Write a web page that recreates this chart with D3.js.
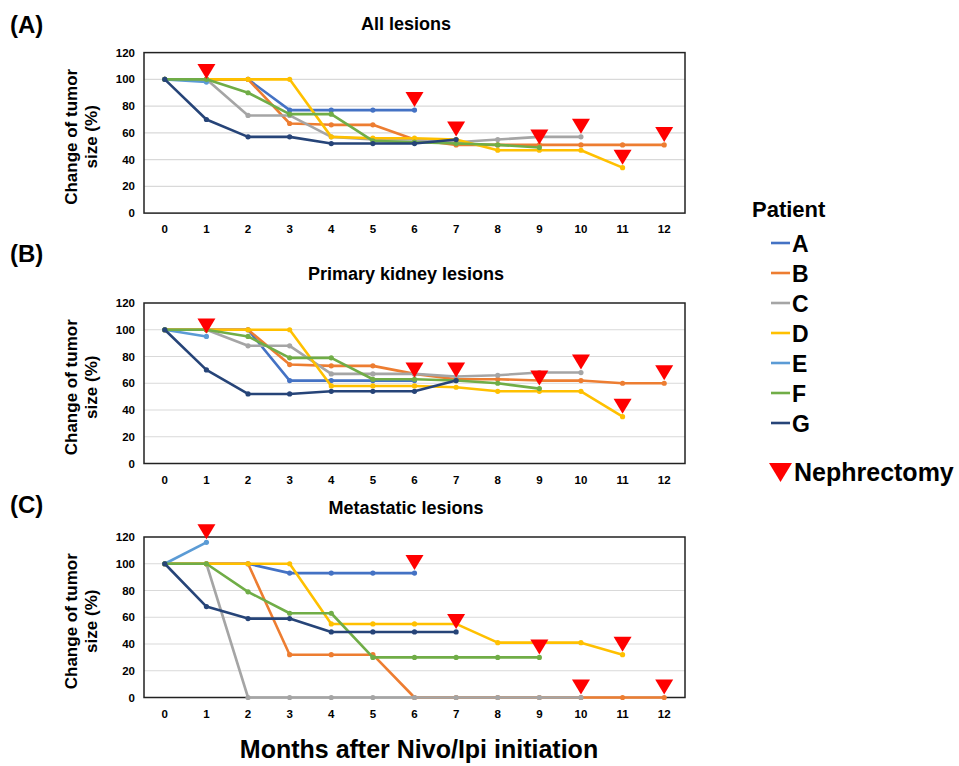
<!DOCTYPE html>
<html>
<head>
<meta charset="utf-8">
<script src="https://cdn.jsdelivr.net/npm/d3@7"></script>
<style>
	body { margin: 0; background: #fff; }
	text { font-family: "Liberation Sans", Arial, sans-serif; font-weight: bold; fill: #000; }
</style>
</head>
<body>
<script>
//months after initiation (x categories)
var months = [0,1,2,3,4,5,6,7,8,9,10,11,12];
var patients = ["A","B","C","D","E","F","G"];
var patientColors = ["#4472C4","#ED7D31","#A5A5A5","#FFC000","#5B9BD5","#70AD47","#264478"];
var yTicks = [0,20,40,60,80,100,120];
//month of nephrectomy for each patient (A..G)
var nephMonth = [6,12,10,11,1,9,7];

//(A) all lesions, one row per patient, null = no measure
var allLesions = [
	[100,100,100,77,77,77,77,null,null,null,null,null,null],
	[100,100,100,67,66,66,55,51,51,51,51,51,51],
	[100,100,73,73,57,55,55,53,55,57,57,null,null],
	[100,100,100,100,57,56,56,55,47,47,47,34,null],
	[100,98,null,null,null,null,null,null,null,null,null,null,null],
	[100,100,90,74,74,54,53,52,51,49,null,null,null],
	[100,70,57,57,52,52,52,55,null,null,null,null,null]
];
//(B) primary kidney lesions
var primaryLesions = [
	[100,100,100,62,62,62,62,null,null,null,null,null,null],
	[100,100,100,74,73,73,67,63,63,62,62,60,60],
	[100,100,88,88,67,67,67,65,66,68,68,null,null],
	[100,100,100,100,58,58,58,57,54,54,54,35,null],
	[100,95,null,null,null,null,null,null,null,null,null,null,null],
	[100,100,95,79,79,63,63,62,60,56,null,null,null],
	[100,70,52,52,54,54,54,62,null,null,null,null,null]
];
//(C) metastatic lesions
var metaLesions = [
	[100,100,100,93,93,93,93,null,null,null,null,null,null],
	[100,100,100,32,32,32,0,0,0,0,0,0,0],
	[100,100,0,0,0,0,0,0,0,0,0,null,null],
	[100,100,100,100,55,55,55,55,41,41,41,32,null],
	[100,116,null,null,null,null,null,null,null,null,null,null,null],
	[100,100,79,63,63,30,30,30,30,30,null,null,null],
	[100,68,59,59,49,49,49,49,null,null,null,null,null]
];

var panels = [
	{label:"(A)", title:"All lesions", data:allLesions, top:52.6, labelY:33},
	{label:"(B)", title:"Primary kidney lesions", data:primaryLesions, top:303, labelY:262},
	{label:"(C)", title:"Metastatic lesions", data:metaLesions, top:537, labelY:513}
];

var w = 959, h = 766;
var plotLeft = 144, plotRight = 685, plotH = 160.5;

var svg = d3.select("body").append("svg")
	.attr("width", w)
	.attr("height", h);

//shared x scale, Excel style category axis
var x = d3.scalePoint()
	.domain(months)
	.range([plotLeft, plotRight])
	.padding(0.5);

panels.forEach(function(p){
	var y = d3.scaleLinear()
		.domain([0,120])
		.range([p.top + plotH, p.top]);

	var g = svg.append("g").attr("class","panel");

	//gridlines
	g.selectAll(".grid")
		.data(yTicks.slice(1,6))
		.enter().append("line")
		.attr("x1", plotLeft).attr("x2", plotRight)
		.attr("y1", function(d){ return y(d); })
		.attr("y2", function(d){ return y(d); })
		.style("stroke","#d9d9d9")
		.style("stroke-width",1.2);

	//frame
	g.append("rect")
		.attr("x", plotLeft).attr("y", p.top)
		.attr("width", plotRight - plotLeft).attr("height", plotH)
		.style("fill","none")
		.style("stroke","#222")
		.style("stroke-width",1.5);

	//y tick labels
	g.selectAll(".ytick")
		.data(yTicks)
		.enter().append("text")
		.attr("x", 135)
		.attr("y", function(d){ return y(d) + 4; })
		.attr("text-anchor","end")
		.style("font-size","11.5px")
		.text(function(d){ return d; });

	//x tick labels
	g.selectAll(".xtick")
		.data(months)
		.enter().append("text")
		.attr("x", function(d){ return x(d); })
		.attr("y", p.top + plotH + 20)
		.attr("text-anchor","middle")
		.style("font-size","11.5px")
		.text(function(d){ return d; });

	//y axis title, two lines
	var yt = g.append("text")
		.attr("transform","translate(0," + (p.top + plotH/2 + 4) + ") rotate(-90)")
		.attr("text-anchor","middle")
		.style("font-size","17px");
	yt.append("tspan").attr("x",0).attr("y",77).text("Change of tumor");
	yt.append("tspan").attr("x",0).attr("y",97).text("size (%)");

	//panel letter and title
	g.append("text")
		.attr("x", 10).attr("y", p.labelY)
		.style("font-size","24px")
		.text(p.label);
	g.append("text")
		.attr("x", 406).attr("y", p.top - 23)
		.attr("text-anchor","middle")
		.style("font-size","18px")
		.text(p.title);

	var line = d3.line()
		.defined(function(d){ return d != null; })
		.x(function(d,i){ return x(months[i]); })
		.y(function(d){ return y(d); });

	//series lines and markers
	p.data.forEach(function(series, k){
		g.append("path")
			.datum(series)
			.attr("d", line)
			.style("fill","none")
			.style("stroke", patientColors[k])
			.style("stroke-width",2.6)
			.style("stroke-linejoin","round");

		g.selectAll(".pt" + k)
			.data(series.map(function(v,i){ return {v:v, m:months[i]}; }).filter(function(d){ return d.v != null; }))
			.enter().append("circle")
			.attr("cx", function(d){ return x(d.m); })
			.attr("cy", function(d){ return y(d.v); })
			.attr("r", 2.6)
			.style("fill", patientColors[k]);
	});

	//nephrectomy markers above each patient's point
	g.selectAll(".neph")
		.data(nephMonth.map(function(m,k){ return {m:m, v:p.data[k][m]}; }))
		.enter().append("path")
		.attr("d", function(d){
			var cx = x(d.m), cy = y(d.v) - 3;
			return "M" + (cx-9) + "," + (cy-15) + "L" + (cx+9) + "," + (cy-15) + "L" + cx + "," + cy + "Z";
		})
		.style("fill","#ff0000");
});

//x axis title
svg.append("text")
	.attr("x", 419).attr("y", 758)
	.attr("text-anchor","middle")
	.style("font-size","25px")
	.text("Months after Nivo/Ipi initiation");

//legend
var legend = svg.append("g").attr("class","legend");
legend.append("text")
	.attr("x", 752).attr("y", 217)
	.style("font-size","22px")
	.text("Patient");

var items = legend.selectAll(".item")
	.data(patients)
	.enter().append("g")
	.attr("transform", function(d,i){ return "translate(0," + (243 + i*30) + ")"; });
items.append("line")
	.attr("x1",771).attr("x2",790)
	.attr("y1",0).attr("y2",0)
	.style("stroke", function(d,i){ return patientColors[i]; })
	.style("stroke-width",2.6);
items.append("text")
	.attr("x",792).attr("y",8.5)
	.style("font-size","23px")
	.text(function(d){ return d; });

legend.append("path")
	.attr("d","M769,463L792,463L780.5,482Z")
	.style("fill","#ff0000");
legend.append("text")
	.attr("x",794).attr("y",481)
	.style("font-size","25px")
	.text("Nephrectomy");
</script>
</body>
</html>
